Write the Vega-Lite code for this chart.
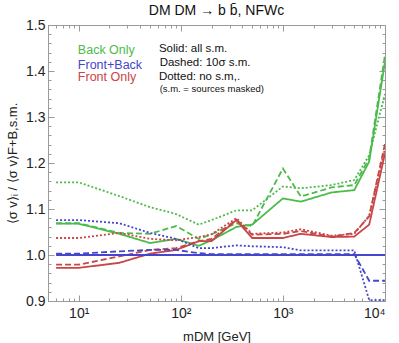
{
  "$schema": "https://vega.github.io/schema/vega-lite/v6.json",
  "width": 337,
  "height": 276,
  "padding": {"left": 6, "top": 4, "right": 12, "bottom": 2},
  "background": "white",
  "title": {"text": "DM DM → b b̄,  NFWc", "fontSize": 14, "fontWeight": "normal", "font": "Liberation Sans", "color": "#111", "offset": 0},
  "config": {
    "view": {"stroke": "#9a9a9a", "strokeWidth": 1},
    "font": "Liberation Sans",
    "axis": {"grid": false, "domainColor": "#9a9a9a", "tickColor": "#9a9a9a", "labelColor": "#222", "titleColor": "#222", "labelFont": "Liberation Sans", "titleFont": "Liberation Sans", "titleFontWeight": "normal", "labelFontSize": 14, "titleFontSize": 13}
  },
  "resolve": {"axis": {"x": "independent", "y": "independent"}},
  "layer": [
    {
      "data": {"name": "curves", "values": [
        {"m":6,"v":1.068,"s":"Back Only","d":"solid"},{"m":10,"v":1.068,"s":"Back Only","d":"solid"},{"m":25,"v":1.046,"s":"Back Only","d":"solid"},{"m":50,"v":1.026,"s":"Back Only","d":"solid"},{"m":90,"v":1.035,"s":"Back Only","d":"solid"},{"m":150,"v":1.02,"s":"Back Only","d":"solid"},{"m":200,"v":1.032,"s":"Back Only","d":"solid"},{"m":350,"v":1.061,"s":"Back Only","d":"solid"},{"m":500,"v":1.066,"s":"Back Only","d":"solid"},{"m":1000,"v":1.123,"s":"Back Only","d":"solid"},{"m":1500,"v":1.116,"s":"Back Only","d":"solid"},{"m":3000,"v":1.136,"s":"Back Only","d":"solid"},{"m":5000,"v":1.141,"s":"Back Only","d":"solid"},{"m":7000,"v":1.203,"s":"Back Only","d":"solid"},{"m":10000,"v":1.42,"s":"Back Only","d":"solid"},
        {"m":6,"v":1.069,"s":"Back Only","d":"dashed"},{"m":10,"v":1.069,"s":"Back Only","d":"dashed"},{"m":25,"v":1.048,"s":"Back Only","d":"dashed"},{"m":50,"v":1.046,"s":"Back Only","d":"dashed"},{"m":90,"v":1.063,"s":"Back Only","d":"dashed"},{"m":150,"v":1.035,"s":"Back Only","d":"dashed"},{"m":200,"v":1.045,"s":"Back Only","d":"dashed"},{"m":350,"v":1.069,"s":"Back Only","d":"dashed"},{"m":500,"v":1.063,"s":"Back Only","d":"dashed"},{"m":1000,"v":1.188,"s":"Back Only","d":"dashed"},{"m":1500,"v":1.127,"s":"Back Only","d":"dashed"},{"m":3000,"v":1.147,"s":"Back Only","d":"dashed"},{"m":5000,"v":1.152,"s":"Back Only","d":"dashed"},{"m":7000,"v":1.21,"s":"Back Only","d":"dashed"},{"m":10000,"v":1.435,"s":"Back Only","d":"dashed"},
        {"m":6,"v":1.158,"s":"Back Only","d":"dotted"},{"m":10,"v":1.158,"s":"Back Only","d":"dotted"},{"m":25,"v":1.128,"s":"Back Only","d":"dotted"},{"m":50,"v":1.104,"s":"Back Only","d":"dotted"},{"m":90,"v":1.089,"s":"Back Only","d":"dotted"},{"m":150,"v":1.066,"s":"Back Only","d":"dotted"},{"m":200,"v":1.076,"s":"Back Only","d":"dotted"},{"m":350,"v":1.097,"s":"Back Only","d":"dotted"},{"m":500,"v":1.097,"s":"Back Only","d":"dotted"},{"m":1000,"v":1.149,"s":"Back Only","d":"dotted"},{"m":1500,"v":1.145,"s":"Back Only","d":"dotted"},{"m":3000,"v":1.152,"s":"Back Only","d":"dotted"},{"m":5000,"v":1.163,"s":"Back Only","d":"dotted"},{"m":7000,"v":1.217,"s":"Back Only","d":"dotted"},{"m":10000,"v":1.35,"s":"Back Only","d":"dotted"},
        {"m":6,"v":0.972,"s":"Front Only","d":"solid"},{"m":10,"v":0.972,"s":"Front Only","d":"solid"},{"m":25,"v":0.983,"s":"Front Only","d":"solid"},{"m":50,"v":1.003,"s":"Front Only","d":"solid"},{"m":90,"v":1.011,"s":"Front Only","d":"solid"},{"m":150,"v":1.03,"s":"Front Only","d":"solid"},{"m":200,"v":1.03,"s":"Front Only","d":"solid"},{"m":350,"v":1.076,"s":"Front Only","d":"solid"},{"m":500,"v":1.037,"s":"Front Only","d":"solid"},{"m":1000,"v":1.037,"s":"Front Only","d":"solid"},{"m":1500,"v":1.046,"s":"Front Only","d":"solid"},{"m":3000,"v":1.039,"s":"Front Only","d":"solid"},{"m":5000,"v":1.04,"s":"Front Only","d":"solid"},{"m":7000,"v":1.066,"s":"Front Only","d":"solid"},{"m":10000,"v":1.221,"s":"Front Only","d":"solid"},
        {"m":6,"v":0.979,"s":"Front Only","d":"dashed"},{"m":10,"v":0.979,"s":"Front Only","d":"dashed"},{"m":25,"v":0.997,"s":"Front Only","d":"dashed"},{"m":50,"v":1.011,"s":"Front Only","d":"dashed"},{"m":90,"v":1.015,"s":"Front Only","d":"dashed"},{"m":150,"v":1.03,"s":"Front Only","d":"dashed"},{"m":200,"v":1.035,"s":"Front Only","d":"dashed"},{"m":350,"v":1.077,"s":"Front Only","d":"dashed"},{"m":500,"v":1.044,"s":"Front Only","d":"dashed"},{"m":1000,"v":1.046,"s":"Front Only","d":"dashed"},{"m":1500,"v":1.052,"s":"Front Only","d":"dashed"},{"m":3000,"v":1.04,"s":"Front Only","d":"dashed"},{"m":5000,"v":1.048,"s":"Front Only","d":"dashed"},{"m":7000,"v":1.084,"s":"Front Only","d":"dashed"},{"m":10000,"v":1.242,"s":"Front Only","d":"dashed"},
        {"m":6,"v":1.037,"s":"Front Only","d":"dotted"},{"m":10,"v":1.037,"s":"Front Only","d":"dotted"},{"m":25,"v":1.048,"s":"Front Only","d":"dotted"},{"m":50,"v":1.035,"s":"Front Only","d":"dotted"},{"m":90,"v":1.032,"s":"Front Only","d":"dotted"},{"m":150,"v":1.039,"s":"Front Only","d":"dotted"},{"m":200,"v":1.045,"s":"Front Only","d":"dotted"},{"m":350,"v":1.08,"s":"Front Only","d":"dotted"},{"m":500,"v":1.046,"s":"Front Only","d":"dotted"},{"m":1000,"v":1.049,"s":"Front Only","d":"dotted"},{"m":1500,"v":1.056,"s":"Front Only","d":"dotted"},{"m":3000,"v":1.042,"s":"Front Only","d":"dotted"},{"m":5000,"v":1.046,"s":"Front Only","d":"dotted"},{"m":7000,"v":1.085,"s":"Front Only","d":"dotted"},{"m":10000,"v":1.232,"s":"Front Only","d":"dotted"},
        {"m":6,"v":1.0,"s":"Front+Back","d":"solid"},{"m":10,"v":1.0,"s":"Front+Back","d":"solid"},{"m":25,"v":1.0,"s":"Front+Back","d":"solid"},{"m":50,"v":1.0,"s":"Front+Back","d":"solid"},{"m":90,"v":1.0,"s":"Front+Back","d":"solid"},{"m":150,"v":1.0,"s":"Front+Back","d":"solid"},{"m":200,"v":1.0,"s":"Front+Back","d":"solid"},{"m":350,"v":1.0,"s":"Front+Back","d":"solid"},{"m":500,"v":1.0,"s":"Front+Back","d":"solid"},{"m":1000,"v":1.0,"s":"Front+Back","d":"solid"},{"m":1500,"v":1.0,"s":"Front+Back","d":"solid"},{"m":3000,"v":1.0,"s":"Front+Back","d":"solid"},{"m":5000,"v":1.0,"s":"Front+Back","d":"solid"},{"m":7000,"v":1.0,"s":"Front+Back","d":"solid"},{"m":10000,"v":1.0,"s":"Front+Back","d":"solid"},
        {"m":6,"v":1.003,"s":"Front+Back","d":"dashed"},{"m":10,"v":1.003,"s":"Front+Back","d":"dashed"},{"m":25,"v":1.008,"s":"Front+Back","d":"dashed"},{"m":50,"v":1.011,"s":"Front+Back","d":"dashed"},{"m":90,"v":1.011,"s":"Front+Back","d":"dashed"},{"m":150,"v":1.004,"s":"Front+Back","d":"dashed"},{"m":200,"v":1.002,"s":"Front+Back","d":"dashed"},{"m":350,"v":1.002,"s":"Front+Back","d":"dashed"},{"m":500,"v":1.002,"s":"Front+Back","d":"dashed"},{"m":1000,"v":1.002,"s":"Front+Back","d":"dashed"},{"m":1500,"v":1.002,"s":"Front+Back","d":"dashed"},{"m":3000,"v":1.002,"s":"Front+Back","d":"dashed"},{"m":5000,"v":1.002,"s":"Front+Back","d":"dashed"},{"m":7000,"v":0.944,"s":"Front+Back","d":"dashed"},{"m":10000,"v":0.944,"s":"Front+Back","d":"dashed"},
        {"m":6,"v":1.076,"s":"Front+Back","d":"dotted"},{"m":10,"v":1.076,"s":"Front+Back","d":"dotted"},{"m":25,"v":1.069,"s":"Front+Back","d":"dotted"},{"m":50,"v":1.048,"s":"Front+Back","d":"dotted"},{"m":90,"v":1.035,"s":"Front+Back","d":"dotted"},{"m":150,"v":1.015,"s":"Front+Back","d":"dotted"},{"m":200,"v":1.015,"s":"Front+Back","d":"dotted"},{"m":350,"v":1.021,"s":"Front+Back","d":"dotted"},{"m":500,"v":1.019,"s":"Front+Back","d":"dotted"},{"m":1000,"v":1.017,"s":"Front+Back","d":"dotted"},{"m":1500,"v":1.01,"s":"Front+Back","d":"dotted"},{"m":3000,"v":1.01,"s":"Front+Back","d":"dotted"},{"m":5000,"v":1.01,"s":"Front+Back","d":"dotted"},{"m":7000,"v":0.902,"s":"Front+Back","d":"dotted"},{"m":10000,"v":0.902,"s":"Front+Back","d":"dotted"}
      ]},
      "mark": {"type": "line", "strokeWidth": 1.8, "clip": true},
      "encoding": {
        "x": {"field": "m", "type": "quantitative",
          "scale": {"type": "log", "domain": [5, 10000], "nice": false},
          "axis": {"title": "mDM [GeV]", "titlePadding": 10,
            "values": [5,6,7,8,9,10,20,30,40,50,60,70,80,90,100,200,300,400,500,600,700,800,900,1000,2000,3000,4000,5000,6000,7000,8000,9000,10000],
            "labelExpr": "datum.value == 10 ? '10¹' : datum.value == 100 ? '10²' : datum.value == 1000 ? '10³' : datum.value == 10000 ? '10⁴' : ''",
            "labelPadding": 11,
            "tickSize": {"condition": {"test": "indexof([10,100,1000,10000], datum.value) >= 0", "value": -6}, "value": -3}}},
        "y": {"field": "v", "type": "quantitative",
          "scale": {"domain": [0.9, 1.5], "nice": false, "zero": false},
          "axis": {"title": "⟨σ v⟩ᵢ / ⟨σ v⟩F+B,s.m.", "titlePadding": 6,
            "values": [0.9,0.92,0.94,0.96,0.98,1.0,1.02,1.04,1.06,1.08,1.1,1.12,1.14,1.16,1.18,1.2,1.22,1.24,1.26,1.28,1.3,1.32,1.34,1.36,1.38,1.4,1.42,1.44,1.46,1.48,1.5],
            "labelExpr": "abs(datum.value*10 - round(datum.value*10)) < 0.001 ? format(datum.value, '.1f') : ''",
            "labelPadding": 9,
            "tickSize": {"condition": {"test": "abs(datum.value*10 - round(datum.value*10)) < 0.001", "value": -6}, "value": -3}}},
        "color": {"field": "s", "type": "nominal", "legend": null,
          "scale": {"domain": ["Back Only", "Front+Back", "Front Only"], "range": ["#4cbb4c", "#4646cc", "#c84646"]}},
        "strokeDash": {"field": "d", "type": "nominal", "legend": null,
          "scale": {"domain": ["solid", "dashed", "dotted"], "range": [[1, 0], [6, 3], [2, 2]]}},
        "detail": {"field": "d"}
      }
    },
    {
      "data": {"name": "curves"},
      "mark": {"type": "line", "opacity": 0},
      "encoding": {
        "x": {"field": "m", "type": "quantitative",
          "axis": {"orient": "top", "title": null, "labels": false, "domain": false,
            "values": [5,6,7,8,9,10,20,30,40,50,60,70,80,90,100,200,300,400,500,600,700,800,900,1000,2000,3000,4000,5000,6000,7000,8000,9000,10000],
            "tickSize": {"condition": {"test": "indexof([10,100,1000,10000], datum.value) >= 0", "value": -6}, "value": -3}}},
        "y": {"field": "v", "type": "quantitative",
          "axis": {"orient": "right", "title": null, "labels": false, "domain": false,
            "values": [0.9,0.92,0.94,0.96,0.98,1.0,1.02,1.04,1.06,1.08,1.1,1.12,1.14,1.16,1.18,1.2,1.22,1.24,1.26,1.28,1.3,1.32,1.34,1.36,1.38,1.4,1.42,1.44,1.46,1.48,1.5],
            "tickSize": {"condition": {"test": "abs(datum.value*10 - round(datum.value*10)) < 0.001", "value": -6}, "value": -3}}},
        "detail": {"field": "s"}
      }
    },
    {
      "data": {"values": [
        {"m": 9.8, "v": 1.446, "t": "Back Only", "s": "Back Only"},
        {"m": 9.8, "v": 1.414, "t": "Front+Back", "s": "Front+Back"},
        {"m": 9.8, "v": 1.386, "t": "Front Only", "s": "Front Only"}
      ]},
      "mark": {"type": "text", "align": "left", "baseline": "middle", "fontSize": 12.5, "font": "Liberation Sans"},
      "encoding": {
        "x": {"field": "m", "type": "quantitative", "axis": null},
        "y": {"field": "v", "type": "quantitative", "axis": null},
        "text": {"field": "t"},
        "color": {"field": "s", "type": "nominal", "legend": null}
      }
    },
    {
      "data": {"values": [
        {"m": 61, "v": 1.448, "t": "Solid: all s.m."},
        {"m": 62, "v": 1.417, "t": "Dashed: 10σ s.m."},
        {"m": 61, "v": 1.388, "t": "Dotted: no s.m,."}
      ]},
      "mark": {"type": "text", "align": "left", "baseline": "middle", "fontSize": 11.5, "font": "Liberation Sans", "color": "#111"},
      "encoding": {
        "x": {"field": "m", "type": "quantitative", "axis": null},
        "y": {"field": "v", "type": "quantitative", "axis": null},
        "text": {"field": "t"}
      }
    },
    {
      "data": {"values": [
        {"m": 62, "v": 1.361, "t": "(s.m. = sources masked)"}
      ]},
      "mark": {"type": "text", "align": "left", "baseline": "middle", "fontSize": 9.5, "font": "Liberation Sans", "color": "#111"},
      "encoding": {
        "x": {"field": "m", "type": "quantitative", "axis": null},
        "y": {"field": "v", "type": "quantitative", "axis": null},
        "text": {"field": "t"}
      }
    }
  ]
}
